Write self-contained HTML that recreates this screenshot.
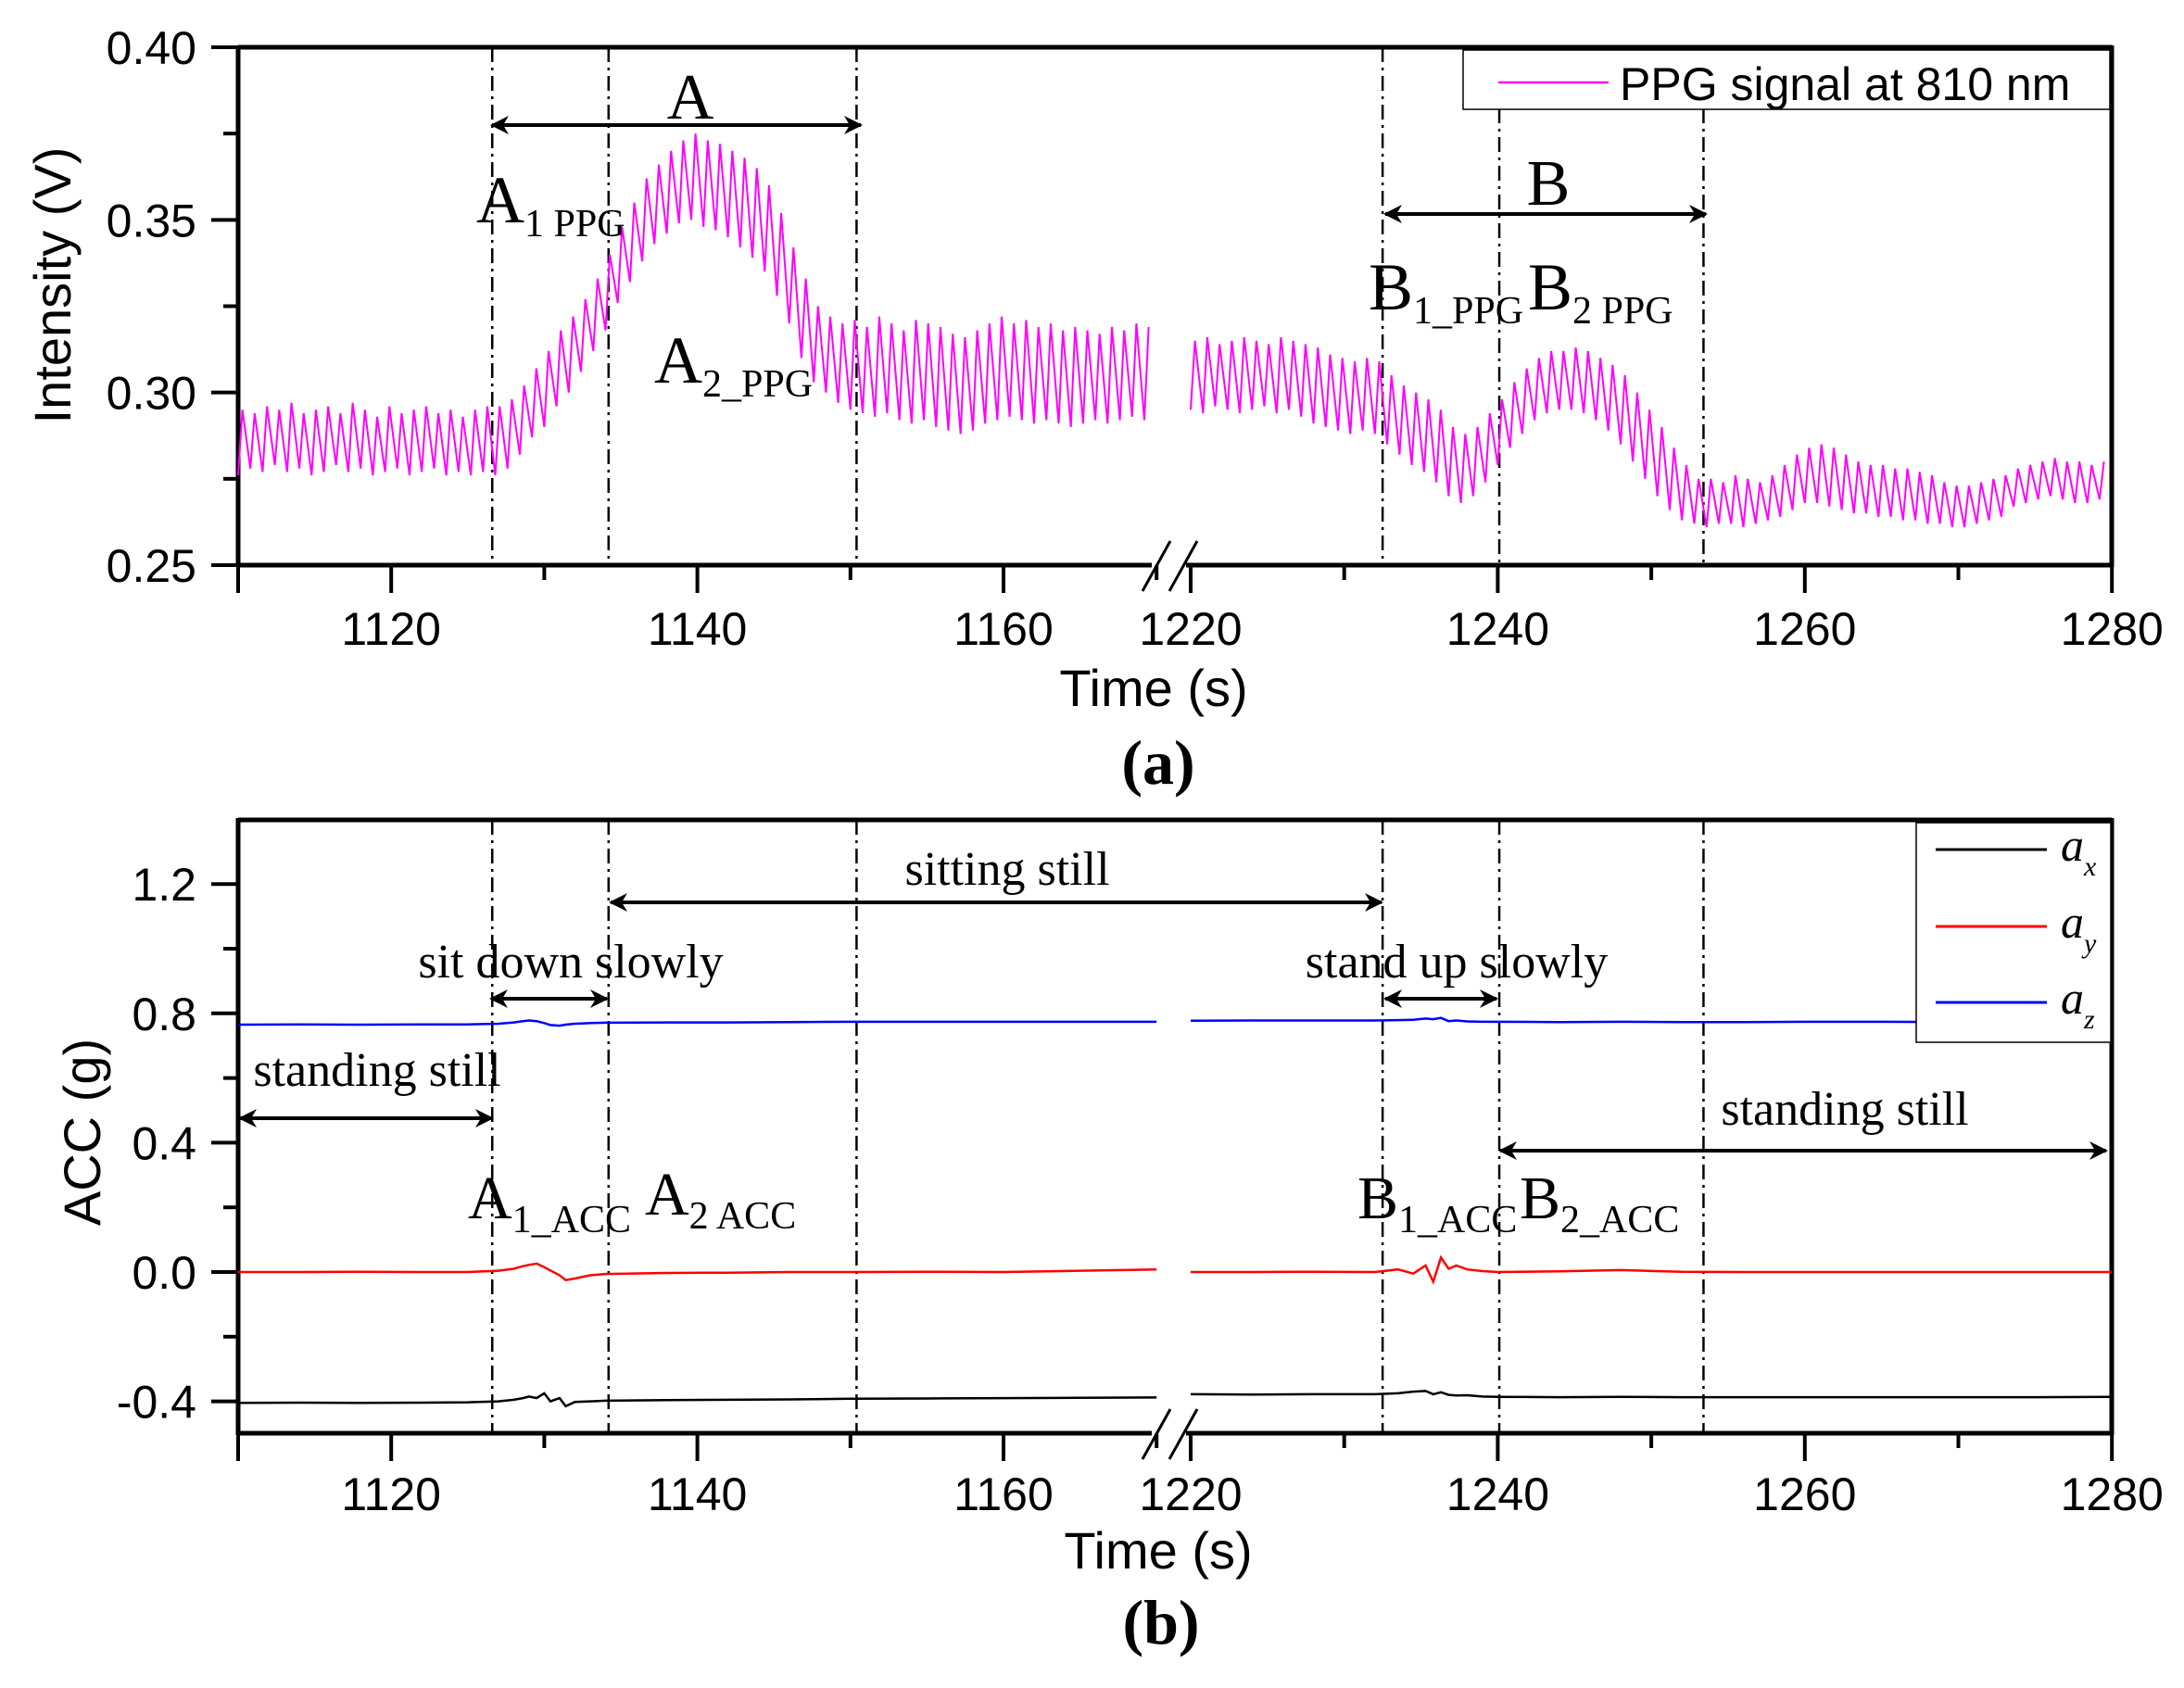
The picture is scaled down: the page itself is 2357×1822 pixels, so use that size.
<!DOCTYPE html>
<html><head><meta charset="utf-8"><style>
html,body{margin:0;padding:0;background:#fff}
svg{display:block}
.tk{font-family:"Liberation Sans",sans-serif;font-size:50px;fill:#000}
.ti{font-family:"Liberation Sans",sans-serif;font-size:56px;fill:#000}
.sr{font-family:"Liberation Serif",serif;fill:#000}
</style></head><body>
<svg id="fig" width="2357" height="1822" viewBox="0 0 2357 1822" xmlns="http://www.w3.org/2000/svg">
<defs>
<marker id="ah" viewBox="0 0 20 20" refX="18" refY="10" markerWidth="20" markerHeight="20" markerUnits="userSpaceOnUse" orient="auto-start-reverse">
<path d="M0,0 L20,10 L0,20 L6,10 Z" fill="#000"/>
</marker>
</defs>
<g id="pa"></g>
<g id="pb"></g>
</svg>
<script>
// ---- data ----
const xTicksMajor = [1110,1120,1140,1160,1220,1240,1260,1280];
const xTickLabels = ["","1120","1140","1160","1220","1240","1260","1280"];
const xTicksMinor = [1130,1150,1170,1230,1250,1270];
const yTicksA = [0.25,0.30,0.35,0.40];
const yTickLabelsA = ["0.25","0.30","0.35","0.40"];
const yMinorA = [0.275,0.325,0.375];
const yTicksB = [-0.4,0.0,0.4,0.8,1.2];
const yTickLabelsB = ["-0.4","0.0","0.4","0.8","1.2"];
const yMinorB = [-0.2,0.2,0.6,1.0];
const eventTimes = [1126.6,1134.2,1150.4,1232.5,1240.1,1253.4];
const beatPeriod = 0.8;
const ppgStartL = 1110, ppgStartR = 1220;
const ppgHighL = [0.295,0.294,0.296,0.295,0.297,0.294,0.295,0.296,0.294,0.297,0.295,0.293,0.296,0.294,0.295,0.296,0.294,0.295,0.293,0.295,0.296,0.296,0.298,0.302,0.307,0.312,0.318,0.322,0.327,0.333,0.340,0.348,0.355,0.362,0.366,0.370,0.373,0.375,0.373,0.372,0.370,0.368,0.365,0.360,0.352,0.342,0.333,0.325,0.322,0.320,0.321,0.319,0.322,0.320,0.318,0.321,0.320,0.319,0.317,0.316,0.318,0.320,0.322,0.320,0.321,0.319,0.320,0.318,0.319,0.318,0.317,0.319,0.318,0.320,0.319];
const ppgLowL = [0.276,0.278,0.277,0.279,0.277,0.278,0.276,0.277,0.279,0.277,0.278,0.276,0.277,0.278,0.276,0.277,0.278,0.276,0.277,0.276,0.277,0.276,0.278,0.282,0.287,0.290,0.296,0.300,0.306,0.312,0.318,0.326,0.332,0.338,0.343,0.346,0.349,0.350,0.348,0.347,0.345,0.342,0.339,0.335,0.328,0.320,0.310,0.303,0.300,0.297,0.295,0.294,0.293,0.294,0.292,0.291,0.292,0.290,0.289,0.288,0.289,0.291,0.292,0.293,0.292,0.291,0.292,0.291,0.290,0.291,0.292,0.291,0.292,0.293,0.292];
const ppgHighR = [0.315,0.316,0.314,0.315,0.316,0.315,0.314,0.316,0.315,0.314,0.313,0.311,0.310,0.309,0.310,0.309,0.305,0.302,0.300,0.298,0.295,0.290,0.288,0.290,0.294,0.298,0.303,0.307,0.310,0.312,0.312,0.313,0.312,0.310,0.308,0.305,0.300,0.295,0.290,0.284,0.279,0.275,0.275,0.274,0.276,0.275,0.274,0.276,0.279,0.282,0.284,0.285,0.284,0.282,0.280,0.279,0.279,0.278,0.278,0.277,0.276,0.274,0.273,0.273,0.274,0.275,0.276,0.278,0.279,0.280,0.281,0.280,0.280,0.279,0.280];
const ppgLowR = [0.295,0.294,0.296,0.295,0.294,0.295,0.296,0.294,0.295,0.293,0.291,0.290,0.289,0.288,0.289,0.288,0.285,0.282,0.279,0.277,0.274,0.270,0.268,0.270,0.274,0.279,0.284,0.288,0.292,0.294,0.295,0.295,0.294,0.292,0.289,0.285,0.280,0.275,0.270,0.266,0.263,0.262,0.261,0.262,0.262,0.261,0.262,0.263,0.264,0.266,0.268,0.268,0.267,0.266,0.265,0.265,0.264,0.264,0.263,0.263,0.262,0.262,0.261,0.261,0.262,0.263,0.264,0.267,0.268,0.269,0.270,0.269,0.268,0.268,0.269];
const accTL = [1110,1114,1118,1122,1125,1127,1128,1128.6,1129,1129.5,1130,1130.4,1131,1131.4,1132,1133,1134,1138,1142,1146,1150,1155,1160,1165,1170];
const axL = [-0.405,-0.404,-0.405,-0.404,-0.403,-0.400,-0.395,-0.39,-0.385,-0.39,-0.375,-0.40,-0.39,-0.415,-0.402,-0.400,-0.398,-0.396,-0.395,-0.394,-0.392,-0.391,-0.390,-0.389,-0.388];
const ayL = [0.0,0.0,0.001,0.0,0.0,0.004,0.01,0.018,0.022,0.026,0.015,0.005,-0.01,-0.025,-0.02,-0.01,-0.006,-0.003,-0.002,0.0,0.0,0.001,0.0,0.004,0.008];
const azL = [0.765,0.766,0.765,0.766,0.766,0.768,0.772,0.776,0.778,0.776,0.770,0.764,0.762,0.765,0.768,0.770,0.771,0.772,0.772,0.773,0.774,0.774,0.774,0.774,0.774];
const accTR = [1220,1224,1228,1232,1233.5,1234.5,1235.3,1235.8,1236.3,1236.8,1237.3,1238,1239,1240,1244,1248,1252,1256,1260,1265,1270,1275,1280];
const axR = [-0.378,-0.379,-0.378,-0.378,-0.375,-0.37,-0.368,-0.378,-0.372,-0.38,-0.382,-0.381,-0.385,-0.386,-0.387,-0.386,-0.387,-0.387,-0.387,-0.387,-0.387,-0.387,-0.386];
const ayR = [0.0,0.0,0.001,0.0,0.008,-0.005,0.02,-0.03,0.045,0.01,0.02,0.008,0.003,0.0,0.002,0.006,0.001,0.0,0.0,0.0,0.0,0.0,0.0];
const azR = [0.777,0.778,0.778,0.778,0.779,0.780,0.784,0.782,0.786,0.776,0.778,0.775,0.774,0.774,0.773,0.774,0.773,0.773,0.774,0.774,0.773,0.774,0.774];

// ---- scales ----
function X(t){ return t<=1180 ? 257+(t-1110)*16.52 : 1285+(t-1220)*16.57; }
function YA(v){ return 610-(v-0.25)/0.15*559; }
function YB(v){ return 1373-v*349; }
const NS="http://www.w3.org/2000/svg";
function mk(parent,tag,attrs,text){const e=document.createElementNS(NS,tag);for(const k in attrs)e.setAttribute(k,attrs[k]);if(text!==undefined)e.textContent=text;parent.appendChild(e);return e;}

function axes(g,top,bot,left,right,Y,yt,ytl,ym,xlabY){
  mk(g,'line',{x1:left,y1:top,x2:right,y2:top,stroke:'#000','stroke-width':5});
  mk(g,'line',{x1:left,y1:top-2,x2:left,y2:bot+2,stroke:'#000','stroke-width':5});
  mk(g,'line',{x1:right,y1:top-2,x2:right,y2:bot+2,stroke:'#000','stroke-width':5});
  mk(g,'line',{x1:left,y1:bot,x2:1243,y2:bot,stroke:'#000','stroke-width':5});
  mk(g,'line',{x1:1280,y1:bot,x2:right,y2:bot,stroke:'#000','stroke-width':5});
  const b1=mk(g,'line',{x1:1233,y1:bot+28,x2:1263,y2:bot-26,stroke:'#000','stroke-width':3});
  
  
  const b2=mk(g,'line',{x1:1262,y1:bot+28,x2:1292,y2:bot-26,stroke:'#000','stroke-width':3});
  
  
  xTicksMajor.forEach((t,i)=>{
    const x=X(t);
    mk(g,'line',{x1:x,y1:bot,x2:x,y2:bot+30,stroke:'#000','stroke-width':4});
    if(xTickLabels[i]){const l=mk(g,'text',{x:x,y:xlabY,'text-anchor':'middle',class:'tk'},xTickLabels[i]);
      
      }
  });
  xTicksMinor.forEach(t=>{const x=X(t);mk(g,'line',{x1:x,y1:bot,x2:x,y2:bot+16,stroke:'#000','stroke-width':4});});
  yt.forEach((v,i)=>{const y=Y(v);
    mk(g,'line',{x1:left-29,y1:y,x2:left,y2:y,stroke:'#000','stroke-width':4});
    const l=mk(g,'text',{x:left-45,y:y+18,'text-anchor':'end',class:'tk'},ytl[i]);
    
    });
  ym.forEach(v=>{const y=Y(v);mk(g,'line',{x1:left-16,y1:y,x2:left,y2:y,stroke:'#000','stroke-width':4});});
}
function vlines(g,top,bot,skipTop){
  eventTimes.forEach(t=>{const x=X(t);
    const yt=(skipTop&&x>1578)?117:top;
    const l=mk(g,'line',{x1:x,y1:yt,x2:x,y2:bot,stroke:'#000','stroke-width':2.5,'stroke-dasharray':'16,6,3,6'});
    
    });
}
function arrow(g,x1,x2,y,name){
  const a=mk(g,'line',{x1:x1,y1:y,x2:x2,y2:y,stroke:'#000','stroke-width':4,'marker-start':'url(#ah)','marker-end':'url(#ah)'});
  
  
}
function subLabel(g,x,y,big,sub,name,bs,ss){
  const t=mk(g,'text',{x:x,y:y,class:'sr','font-size':bs});
  mk(t,'tspan',{},big);
  mk(t,'tspan',{dy:15,'font-size':ss},sub);
  
  
}

// ---- panel a ----
const pa=document.getElementById('pa');
axes(pa,51,610,257,2279,YA,yTicksA,yTickLabelsA,yMinorA,696);
vlines(pa,51,610,true);
function ppgPath(start,hi,lo){
  let d='';
  for(let i=0;i<hi.length;i++){
    const t0=start+i*beatPeriod;
    d+=(i?'L':'M')+X(t0).toFixed(1)+','+YA(lo[i]).toFixed(1);
    d+='L'+X(t0+0.35*beatPeriod).toFixed(1)+','+YA(hi[i]).toFixed(1);
  }
  return d;
}
const s1=mk(pa,'path',{d:ppgPath(ppgStartL,ppgHighL,ppgLowL),fill:'none',stroke:'#ff00ff','stroke-width':2});


const s2=mk(pa,'path',{d:ppgPath(ppgStartR,ppgHighR,ppgLowR),fill:'none',stroke:'#ff00ff','stroke-width':2});


const la=mk(pa,'g',{});


mk(la,'rect',{x:1579,y:54,width:698,height:64,fill:'#fff',stroke:'#000','stroke-width':1.5});
mk(la,'line',{x1:1617,y1:89,x2:1736,y2:89,stroke:'#ff00ff','stroke-width':2.5});
mk(la,'text',{x:1748,y:108,class:'tk','font-size':55},'PPG signal at 810 nm');
const ta=mk(pa,'text',{x:745,y:128,'text-anchor':'middle',class:'sr','font-size':70},'A');


arrow(pa,531,929,135,'arrow-A');
subLabel(pa,514,240,'A','1 PPG','label-A1-ppg',72,42);
subLabel(pa,706,413,'A','2_PPG','label-A2-ppg',72,42);
const tb=mk(pa,'text',{x:1671,y:221,'text-anchor':'middle',class:'sr','font-size':70},'B');


arrow(pa,1495,1841,231,'arrow-B');
subLabel(pa,1477,334,'B','1_PPG','label-B1-ppg',72,42);
subLabel(pa,1649,334,'B','2 PPG','label-B2-ppg',72,42);
const ya=mk(pa,'text',{x:0,y:0,'text-anchor':'middle',class:'ti',transform:'translate(76,308) rotate(-90)'},'Intensity (V)');


const xa=mk(pa,'text',{x:1245,y:762,'text-anchor':'middle',class:'ti'},'Time (s)');


const ca=mk(pa,'text',{x:1250,y:846,'text-anchor':'middle',class:'sr','font-size':68,'font-weight':'bold'},'(a)');



// ---- panel b ----
const pb=document.getElementById('pb');
axes(pb,885,1547,257,2279,YB,yTicksB,yTickLabelsB,yMinorB,1630);
vlines(pb,885,1547,false);
function accPath(ts,vs){return ts.map((t,i)=>(i?'L':'M')+X(t).toFixed(1)+','+YB(vs[i]).toFixed(1)).join('');}
[[axL,axR,'#000','ax'],[ayL,ayR,'#ff0000','ay'],[azL,azR,'#0000ff','az']].forEach(s=>{
  const p1=mk(pb,'path',{d:accPath(accTL,s[0]),fill:'none',stroke:s[2],'stroke-width':2.5});
  
  
  const p2=mk(pb,'path',{d:accPath(accTR,s[1]),fill:'none',stroke:s[2],'stroke-width':2.5});
  
  
});
const lb=mk(pb,'g',{});


mk(lb,'rect',{x:2068,y:888,width:210,height:237,fill:'#fff',stroke:'#000','stroke-width':1.5});
[['x','#000',917],['y','#ff0000',1000],['z','#0000ff',1082]].forEach(e=>{
  mk(lb,'line',{x1:2089,y1:e[2],x2:2209,y2:e[2],stroke:e[1],'stroke-width':3});
  const t=mk(lb,'text',{x:2224,y:e[2]+12,class:'sr','font-size':50,'font-style':'italic'});
  mk(t,'tspan',{},'a');
  mk(t,'tspan',{dy:16,'font-size':30},e[0]);
});
function txt(g,x,y,s,name){const t=mk(g,'text',{x:x,y:y,'text-anchor':'middle',class:'sr','font-size':52},s);
  
  }
txt(pb,1087,955,'sitting still','label-sitting-still');
arrow(pb,659,1491,974,'arrow-sitting-still');
txt(pb,616,1055,'sit down slowly','label-sit-down');
arrow(pb,530,655,1078,'arrow-sit-down');
txt(pb,1572,1055,'stand up slowly','label-stand-up');
arrow(pb,1495,1615,1078,'arrow-stand-up');
txt(pb,407,1172,'standing still','label-standing-still-left');
arrow(pb,259,531,1207,'arrow-standing-still-left');
txt(pb,1991,1214,'standing still','label-standing-still-right');
arrow(pb,1619,2273,1242,'arrow-standing-still-right');
subLabel(pb,505,1315,'A','1_ACC','label-A1-acc',66,42);
subLabel(pb,696,1311,'A','2 ACC','label-A2-acc',66,42);
subLabel(pb,1465,1315,'B','1_ACC','label-B1-acc',66,42);
subLabel(pb,1640,1315,'B','2_ACC','label-B2-acc',66,42);
const yb=mk(pb,'text',{x:0,y:0,'text-anchor':'middle',class:'ti',transform:'translate(108,1222) rotate(-90)'},'ACC (g)');


const xb=mk(pb,'text',{x:1250,y:1693,'text-anchor':'middle',class:'ti'},'Time (s)');


const cb=mk(pb,'text',{x:1253,y:1774,'text-anchor':'middle',class:'sr','font-size':68,'font-weight':'bold'},'(b)');


</script>
</body></html>
